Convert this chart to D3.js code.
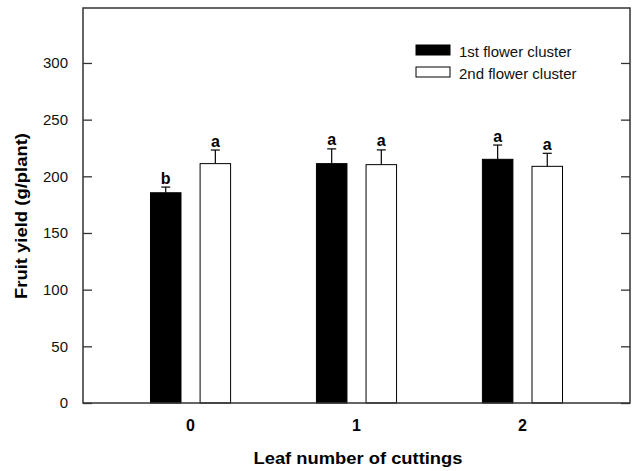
<!DOCTYPE html>
<html>
<head>
<meta charset="utf-8">
<script src="https://cdn.jsdelivr.net/npm/d3@7"></script>
<style>
  body { margin: 0; background: #fff; }
  text { font-family: "Liberation Sans", Arial, sans-serif; }
</style>
</head>
<body>
<div id="chart"></div>
<script>
'use strict';
// data
var categories = ["0", "1", "2"];
var seriesNames = ["1st flower cluster", "2nd flower cluster"];
var firstCluster = [185.5, 211.2, 215.0];
var firstErr = [5, 13, 12.6];
var secondCluster = [211.2, 210.3, 208.8];
var secondErr = [12, 13, 11.5];
var firstLetters = ["b", "a", "a"];
var secondLetters = ["a", "a", "a"];
var yTicks = [0, 50, 100, 150, 200, 250, 300];

var width = 637, height = 471;
var margin = {top: 8, right: 7, bottom: 68, left: 83};
var w = width - margin.left - margin.right;
var h = height - margin.top - margin.bottom;

var svg = d3.select("#chart").append("svg")
    .attr("width", width)
    .attr("height", height);
var g = svg.append("g").attr("transform", "translate(" + margin.left + "," + margin.top + ")");

var x = d3.scalePoint().domain(categories).range([0, w]).padding(0.648);
var y = d3.scaleLinear().domain([0, 348.5]).range([h, 0]);

var barW = 30.5, offset = 24.8;
var series = [
    {name: seriesNames[0], values: firstCluster, errs: firstErr, letters: firstLetters, fill: "#000", dx: -offset},
    {name: seriesNames[1], values: secondCluster, errs: secondErr, letters: secondLetters, fill: "#fff", dx: offset}
];

// bars
series.forEach(function(s) {
    var rows = categories.map(function(c, i) {
        return {cat: c, v: s.values[i], e: s.errs[i], l: s.letters[i]};
    });
    var grp = g.append("g");
    // error bar (upper only)
    grp.selectAll("line.err")
        .data(rows).enter().append("line")
        .attr("x1", function(d) { return x(d.cat) + s.dx; })
        .attr("x2", function(d) { return x(d.cat) + s.dx; })
        .attr("y1", function(d) { return y(d.v); })
        .attr("y2", function(d) { return y(d.v + d.e); })
        .attr("stroke", "#000").attr("stroke-width", 1.2);
    grp.selectAll("line.cap")
        .data(rows).enter().append("line")
        .attr("x1", function(d) { return x(d.cat) + s.dx - 4.5; })
        .attr("x2", function(d) { return x(d.cat) + s.dx + 4.5; })
        .attr("y1", function(d) { return y(d.v + d.e); })
        .attr("y2", function(d) { return y(d.v + d.e); })
        .attr("stroke", "#000").attr("stroke-width", 1.2);
    grp.selectAll("rect")
        .data(rows).enter().append("rect")
        .attr("x", function(d) { return x(d.cat) + s.dx - barW / 2; })
        .attr("width", barW)
        .attr("y", function(d) { return y(d.v); })
        .attr("height", function(d) { return y(0) - y(d.v); })
        .attr("fill", s.fill)
        .attr("stroke", "#000").attr("stroke-width", 1);
    grp.selectAll("text")
        .data(rows).enter().append("text")
        .attr("x", function(d) { return x(d.cat) + s.dx; })
        .attr("y", function(d) { return y(d.v + d.e) - 3.5; })
        .attr("text-anchor", "middle")
        .attr("font-size", "16px").attr("font-weight", "bold")
        .text(function(d) { return d.l; });
});

// frame
g.append("rect")
    .attr("width", w).attr("height", h)
    .attr("fill", "none").attr("stroke", "#333").attr("stroke-width", 1.5);

// y axis (ticks inward, both sides)
var yAxis = g.append("g")
    .call(d3.axisLeft(y).tickValues(yTicks).tickSizeInner(-9).tickSizeOuter(0).tickPadding(15));
yAxis.select(".domain").remove();
yAxis.selectAll("line").attr("stroke", "#333").attr("stroke-width", 1.3);
yAxis.selectAll("text").attr("font-size", "15px").attr("fill", "#111")
    .attr("font-family", "Liberation Sans, Arial, sans-serif");

var yRight = g.append("g").attr("transform", "translate(" + w + ",0)")
    .call(d3.axisRight(y).tickValues(yTicks).tickSizeInner(-9).tickSizeOuter(0).tickFormat(""));
yRight.select(".domain").remove();
yRight.selectAll("line").attr("stroke", "#333").attr("stroke-width", 1.3);

// x tick labels
g.selectAll("text.xlab")
    .data(categories).enter().append("text")
    .attr("class", "xlab")
    .attr("x", function(d) { return x(d); })
    .attr("y", h + 28)
    .attr("text-anchor", "middle")
    .attr("font-size", "16px").attr("font-weight", "bold")
    .text(function(d) { return d; });

// axis titles (original font is wider than Arial, so stretch to length)
svg.append("text")
    .attr("x", 358 - 104.5)
    .attr("y", 463.5)
    .attr("font-size", "16px").attr("font-weight", "bold")
    .attr("textLength", 209).attr("lengthAdjust", "spacingAndGlyphs")
    .text("Leaf number of cuttings");

svg.append("text")
    .attr("transform", "translate(27,299) rotate(-90)")
    .attr("font-size", "16px").attr("font-weight", "bold")
    .attr("textLength", 166).attr("lengthAdjust", "spacingAndGlyphs")
    .text("Fruit yield (g/plant)");

// legend
var legend = svg.append("g").attr("transform", "translate(416,45)");
legend.selectAll("rect")
    .data(series).enter().append("rect")
    .attr("x", 0)
    .attr("y", function(d, i) { return i * 22; })
    .attr("width", 34).attr("height", 10)
    .attr("fill", function(d) { return d.fill; })
    .attr("stroke", "#000").attr("stroke-width", 1);
legend.selectAll("text")
    .data(series).enter().append("text")
    .attr("x", 43)
    .attr("y", function(d, i) { return i * 22 + 12; })
    .attr("font-size", "15px")
    .attr("fill", "#111")
    .text(function(d) { return d.name; });
</script>
</body>
</html>
